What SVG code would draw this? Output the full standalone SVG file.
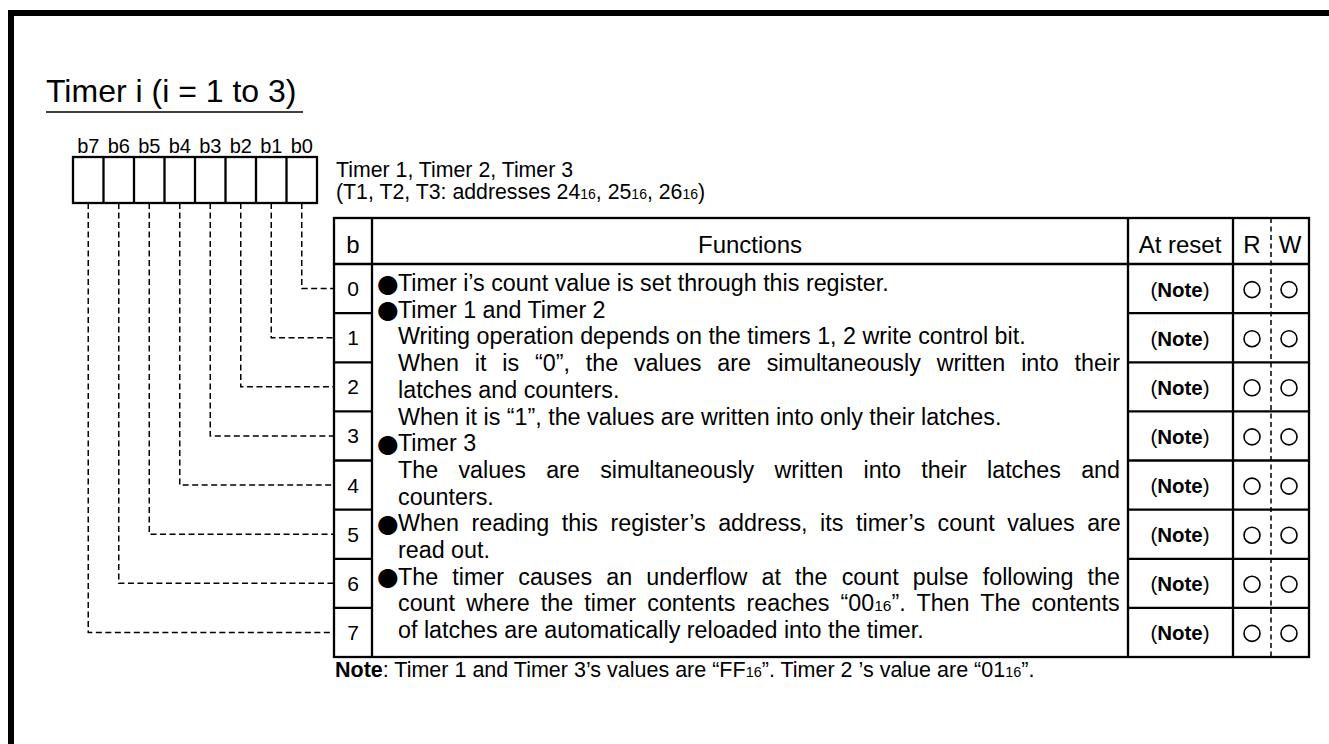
<svg xmlns="http://www.w3.org/2000/svg" width="1329" height="744" viewBox="0 0 1329 744">
<style>
text{font-family:"Liberation Sans",Arial,sans-serif;fill:#000}
.ln{stroke:#000;stroke-width:2.3;fill:none}
.dash{stroke:#000;stroke-width:1.5;fill:none;stroke-dasharray:6 3.5}
.fn{font-size:23.3px}
.bul{font-family:"DejaVu Sans",sans-serif;font-size:25px;text-anchor:middle}
.hd{font-size:24px;text-anchor:middle}
.num{font-size:21px;text-anchor:middle}
.rst{font-size:20.5px;text-anchor:middle}
.bl{font-size:20px;text-anchor:middle}
.circ{fill:none;stroke:#000;stroke-width:1.6}
</style>
<rect width="1329" height="744" fill="#fff"/>
<g id="frame">
<rect x="8" y="10" width="1321" height="6" fill="#000"/>
<rect x="8" y="10" width="6" height="734" fill="#000"/>
</g>
<g id="title">
<text x="46" y="102" font-size="32">Timer i (i = 1 to 3)</text>
<line x1="46" y1="112" x2="303" y2="112" stroke="#000" stroke-width="1.5"/>
</g>
<g id="register">
<rect class="ln" x="73" y="157" width="244" height="46"/>
<path class="ln" d="M103.5,157V203M134,157V203M164.5,157V203M195,157V203M225.5,157V203M256,157V203M286.5,157V203"/>
<text class="bl" x="88.25" y="153">b7</text>
<text class="bl" x="118.75" y="153">b6</text>
<text class="bl" x="149.25" y="153">b5</text>
<text class="bl" x="179.75" y="153">b4</text>
<text class="bl" x="210.25" y="153">b3</text>
<text class="bl" x="240.75" y="153">b2</text>
<text class="bl" x="271.25" y="153">b1</text>
<text class="bl" x="301.75" y="153">b0</text>
</g>
<g id="register-name">
<text x="336" y="177" font-size="21.3">Timer 1, Timer 2, Timer 3</text>
<text x="336" y="199" font-size="21.3">(T1, T2, T3: addresses 24<tspan font-size="14">16</tspan>, 25<tspan font-size="14">16</tspan>, 26<tspan font-size="14">16</tspan>)</text>
</g>
<g id="connectors">
<path class="dash" d="M301.75,203V288.6H334"/>
<path class="dash" d="M271.25,203V337.7H334"/>
<path class="dash" d="M240.75,203V386.8H334"/>
<path class="dash" d="M210.25,203V435.9H334"/>
<path class="dash" d="M179.75,203V485.1H334"/>
<path class="dash" d="M149.25,203V534.2H334"/>
<path class="dash" d="M118.75,203V583.3H334"/>
<path class="dash" d="M88.25,203V632.4H334"/>
</g>
<g id="table">
<rect class="ln" x="334" y="218" width="975" height="439"/>
<path class="ln" d="M334,264H1309M372,218V657M1128,218V657M1233,218V657"/>
<path class="ln" d="M334,313.1H372M334,362.3H372M334,411.4H372M334,460.5H372M334,509.6H372M334,558.8H372M334,607.9H372"/>
<path class="ln" d="M1128,313.1H1309M1128,362.3H1309M1128,411.4H1309M1128,460.5H1309M1128,509.6H1309M1128,558.8H1309M1128,607.9H1309"/>
<line x1="1271" y1="218" x2="1271" y2="657" stroke="#000" stroke-width="1.5" stroke-dasharray="5 3.5"/>
<text class="hd" x="353" y="253">b</text>
<text class="hd" x="750" y="253">Functions</text>
<text class="hd" x="1180" y="253">At reset</text>
<text class="hd" x="1252" y="253">R</text>
<text class="hd" x="1290" y="253">W</text>
</g>
<g id="bit-numbers">
<text class="num" x="353" y="296.1">0</text>
<text class="num" x="353" y="345.2">1</text>
<text class="num" x="353" y="394.3">2</text>
<text class="num" x="353" y="443.4">3</text>
<text class="num" x="353" y="492.6">4</text>
<text class="num" x="353" y="541.7">5</text>
<text class="num" x="353" y="590.8">6</text>
<text class="num" x="353" y="639.9">7</text>
</g>
<g id="functions">
<text class="bul" x="388" y="291.5">●</text>
<text class="fn" x="398" y="291">Timer i’s count value is set through this register.</text>
<text class="bul" x="388" y="318.2">●</text>
<text class="fn" x="398" y="317.7">Timer 1 and Timer 2</text>
<text class="fn" x="398" y="344.4">Writing operation depends on the timers 1, 2 write control bit.</text>
<text class="fn" x="398" y="371.1" word-spacing="9.39">When it is “0”, the values are simultaneously written into their</text>
<text class="fn" x="398" y="397.8">latches and counters.</text>
<text class="fn" x="398" y="424.5">When it is “1”, the values are written into only their latches.</text>
<text class="bul" x="388" y="451.7">●</text>
<text class="fn" x="398" y="451.2">Timer 3</text>
<text class="fn" x="398" y="477.9" word-spacing="13.85">The values are simultaneously written into their latches and</text>
<text class="fn" x="398" y="504.6">counters.</text>
<text class="bul" x="388" y="531.8">●</text>
<text class="fn" x="398" y="531.3" word-spacing="6.12">When reading this register’s address, its timer’s count values are</text>
<text class="fn" x="398" y="558">read out.</text>
<text class="bul" x="388" y="585.2">●</text>
<text class="fn" x="398" y="584.7" word-spacing="7.7">The timer causes an underflow at the count pulse following the</text>
<text class="fn" x="398" y="611.4" word-spacing="4.69">count where the timer contents reaches “00<tspan font-size="15.5">16</tspan>”. Then The contents</text>
<text class="fn" x="398" y="638.1">of latches are automatically reloaded into the timer.</text>
</g>
<g id="at-reset">
<text class="rst" x="1180" y="296.6">(<tspan font-weight="bold">Note</tspan>)</text>
<text class="rst" x="1180" y="345.7">(<tspan font-weight="bold">Note</tspan>)</text>
<text class="rst" x="1180" y="394.8">(<tspan font-weight="bold">Note</tspan>)</text>
<text class="rst" x="1180" y="443.9">(<tspan font-weight="bold">Note</tspan>)</text>
<text class="rst" x="1180" y="493.1">(<tspan font-weight="bold">Note</tspan>)</text>
<text class="rst" x="1180" y="542.2">(<tspan font-weight="bold">Note</tspan>)</text>
<text class="rst" x="1180" y="591.3">(<tspan font-weight="bold">Note</tspan>)</text>
<text class="rst" x="1180" y="640.4">(<tspan font-weight="bold">Note</tspan>)</text>
</g>
<g id="read-write">
<circle class="circ" cx="1252" cy="289.6" r="8"/><circle class="circ" cx="1289" cy="289.6" r="8"/>
<circle class="circ" cx="1252" cy="338.7" r="8"/><circle class="circ" cx="1289" cy="338.7" r="8"/>
<circle class="circ" cx="1252" cy="387.8" r="8"/><circle class="circ" cx="1289" cy="387.8" r="8"/>
<circle class="circ" cx="1252" cy="436.9" r="8"/><circle class="circ" cx="1289" cy="436.9" r="8"/>
<circle class="circ" cx="1252" cy="486.1" r="8"/><circle class="circ" cx="1289" cy="486.1" r="8"/>
<circle class="circ" cx="1252" cy="535.2" r="8"/><circle class="circ" cx="1289" cy="535.2" r="8"/>
<circle class="circ" cx="1252" cy="584.3" r="8"/><circle class="circ" cx="1289" cy="584.3" r="8"/>
<circle class="circ" cx="1252" cy="633.4" r="8"/><circle class="circ" cx="1289" cy="633.4" r="8"/>
</g>
<g id="note">
<text x="335" y="677" font-size="21.5"><tspan font-weight="bold">Note</tspan>: Timer 1 and Timer 3’s values are “FF<tspan font-size="14.5">16</tspan>”. Timer 2 ’s value are “01<tspan font-size="14.5">16</tspan>”.</text>
</g>
</svg>
